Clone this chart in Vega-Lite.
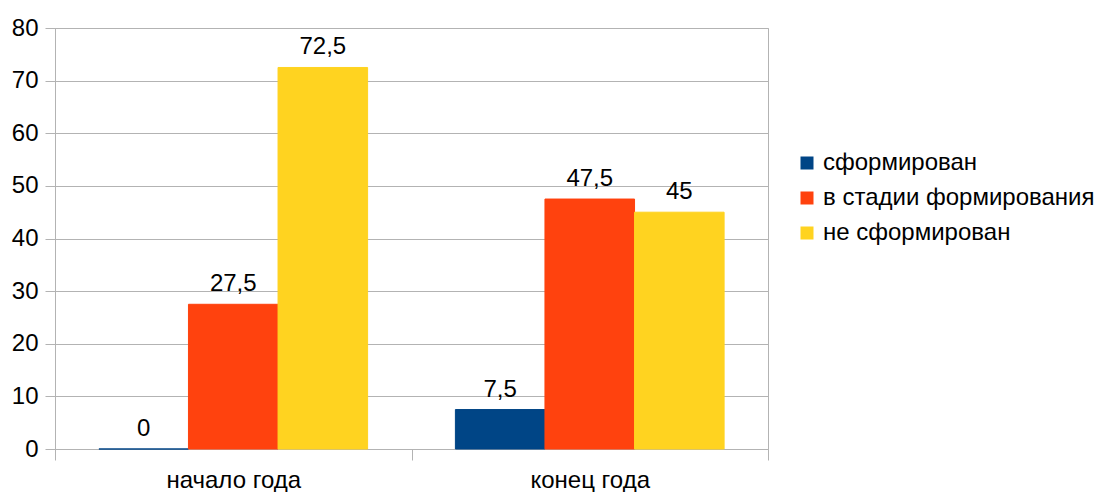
{
  "$schema": "https://vega.github.io/schema/vega-lite/v6.json",
  "width": 713,
  "height": 421,
  "autosize": "none",
  "padding": {"left": 55, "top": 28, "right": 334, "bottom": 43},
  "config": {
    "font": "Liberation Sans",
    "view": {"stroke": "#b3b3b3", "strokeWidth": 1},
    "locale": {"number": {"decimal": ",", "thousands": " ", "grouping": [3], "currency": ["", ""]}}
  },
  "data": {
    "values": [
      {"period": "начало года", "status": "сформирован", "value": 0},
      {"period": "начало года", "status": "в стадии формирования", "value": 27.5},
      {"period": "начало года", "status": "не сформирован", "value": 72.5},
      {"period": "конец года", "status": "сформирован", "value": 7.5},
      {"period": "конец года", "status": "в стадии формирования", "value": 47.5},
      {"period": "конец года", "status": "не сформирован", "value": 45}
    ]
  },
  "encoding": {
    "x": {
      "field": "period", "type": "nominal", "sort": ["начало года", "конец года"],
      "scale": {"paddingInner": 0, "paddingOuter": 0},
      "axis": {"title": null, "labelAngle": 0, "labelFontSize": 24, "labelColor": "#000000", "labelPadding": 8,
               "tickBand": "extent", "tickSize": 11, "tickColor": "#b3b3b3", "domainColor": "#b3b3b3", "grid": false}
    },
    "xOffset": {
      "field": "status", "type": "nominal",
      "sort": ["сформирован", "в стадии формирования", "не сформирован"],
      "scale": {"paddingInner": 0, "paddingOuter": 0.49}
    },
    "y": {
      "field": "value", "type": "quantitative",
      "scale": {"domain": [0, 80]},
      "axis": {"title": null, "values": [0,10,20,30,40,50,60,70,80], "labelFontSize": 24, "labelColor": "#000000",
               "tickSize": 10, "tickColor": "#b3b3b3", "domainColor": "#b3b3b3", "gridColor": "#b3b3b3", "labelPadding": 7}
    }
  },
  "layer": [
    {
      "mark": {"type": "bar", "strokeWidth": 1},
      "encoding": {
        "color": {
          "field": "status", "type": "nominal",
          "sort": ["сформирован", "в стадии формирования", "не сформирован"],
          "scale": {"domain": ["сформирован", "в стадии формирования", "не сформирован"], "range": ["#004586", "#ff420e", "#ffd320"]},
          "legend": {"title": null, "orient": "none", "legendX": 740, "legendY": 123, "symbolType": "square",
                     "symbolSize": 169, "symbolStrokeWidth": 0, "labelFontSize": 24, "labelColor": "#000000",
                     "rowPadding": 11, "labelOffset": 4, "labelLimit": 400}
        },
        "stroke": {
          "field": "status", "type": "nominal",
          "scale": {"domain": ["сформирован", "в стадии формирования", "не сформирован"], "range": ["#004586", "#ff420e", "#ffd320"]},
          "legend": null
        }
      }
    },
    {
      "mark": {"type": "text", "baseline": "alphabetic", "dy": -13, "fontSize": 24, "color": "#000000"},
      "encoding": {
        "text": {"field": "value", "type": "quantitative", "format": ".1~f"}
      }
    }
  ]
}
